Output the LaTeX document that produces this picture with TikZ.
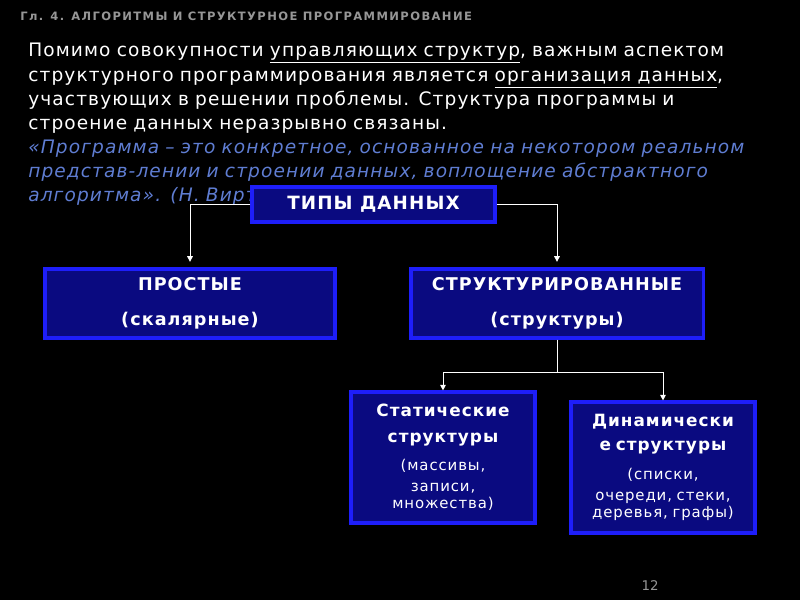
\documentclass[tikz,border=0pt]{standalone}
\usepackage{fontspec}
\setmainfont{DejaVu Sans}
\newfontfamily\headfont[LetterSpace=12]{DejaVu Sans}
\newfontfamily\slidefont[LetterSpace=6]{DejaVu Sans}
\newfontfamily\boxfont[LetterSpace=6]{DejaVu Sans}
\usetikzlibrary{arrows.meta,positioning}
\definecolor{slidebg}{RGB}{0,0,0}
\definecolor{boxfill}{RGB}{10,10,128}
\definecolor{boxedge}{RGB}{30,30,250}
\definecolor{quotecol}{RGB}{95,125,210}
\definecolor{headcol}{RGB}{150,150,150}
\tikzset{
  tbox/.style={draw=boxedge,fill=boxfill,line width=2.2pt,text=white,
               align=center,inner sep=0pt},
  link/.style={draw=white,line width=.7pt},
  arr/.style={link,-{Triangle[width=4pt,length=4pt]}},
}

\begin{document}
\begin{tikzpicture}[x=.025cm,y=-.025cm]
  % --- slide background
  \fill[slidebg] (0,0) rectangle (800,600);
  \useasboundingbox (0,0) rectangle (800,600);
  % --- header and text
  \node[anchor=west,inner sep=0pt,text=headcol,
        font=\headfont\bfseries\fontsize{8.2}{9}\selectfont] (chapter) at (20,16)
    {Гл. 4. АЛГОРИТМЫ И СТРУКТУРНОЕ ПРОГРАММИРОВАНИЕ};
  \node[anchor=north west,inner sep=0pt,text width=19.5cm,align=left,text=white,
        font=\slidefont\fontsize{13.2}{17.2}\selectfont] (intro) at (28,43)
    {Помимо совокупности \underline{управляющих структур}, важным аспектом\\
     структурного программирования является \underline{организация данных},\\
     участвующих в решении проблемы. Структура программы и\\
     строение данных неразрывно связаны.\\
     {\color{quotecol}\itshape «Программа – это конкретное, основанное на некотором реальном\\
     представ-лении и строении данных, воплощение абстрактного\\
     алгоритма». (Н. Вирт)}};
  % --- boxes
  \node[tbox,minimum width=6.075cm,minimum height=.875cm,
        font=\boxfont\bfseries\fontsize{13}{16}\selectfont] (types) at (373.5,204.5)
    {ТИПЫ ДАННЫХ};
  \node[tbox,minimum width=7.25cm,minimum height=1.725cm,text width=7cm,
        font=\boxfont\bfseries\fontsize{12.5}{24.8}\selectfont] (simple) at (190,303.5)
    {ПРОСТЫЕ\\(скалярные)};
  \node[tbox,minimum width=7.3cm,minimum height=1.725cm,text width=7cm,
        font=\boxfont\bfseries\fontsize{12.5}{24.8}\selectfont] (struct) at (557,303.5)
    {СТРУКТУРИРОВАННЫЕ\\(структуры)};
  \node[tbox,minimum width=4.6cm,minimum height=3.275cm,text width=4.4cm,
        font=\boxfont] (static) at (443,457.5)
    {\fontsize{12}{18.4}\selectfont\bfseries Статические\\структуры\par
     \vspace{4pt}\fontsize{10.6}{15.5}\selectfont\mdseries (массивы,\\записи,\\множества)};
  \node[tbox,minimum width=4.6cm,minimum height=3.275cm,text width=4.4cm,
        font=\boxfont] (dynamic) at (663,467.5)
    {\fontsize{12}{17}\selectfont\bfseries Динамически\\е структуры\par
     \vspace{5pt}\fontsize{10.6}{15.5}\selectfont\mdseries (списки,\\очереди, стеки,\\деревья, графы)};
  % --- connectors
  \draw[arr,shorten >=4pt] (types.west) -| (simple.north);
  \draw[arr,shorten >=4pt] (types.east) -| (struct.north);
  \draw[link] (struct.south) -- ++(0,33) coordinate (fork);
  \draw[arr] (fork) -| (static.north);
  \draw[arr] (fork) -| (dynamic.north);
  % --- page number
  \node[text=headcol,font=\fontsize{9.5}{11}\selectfont] (pagenum) at (650,586) {12};
\end{tikzpicture}
\end{document}
